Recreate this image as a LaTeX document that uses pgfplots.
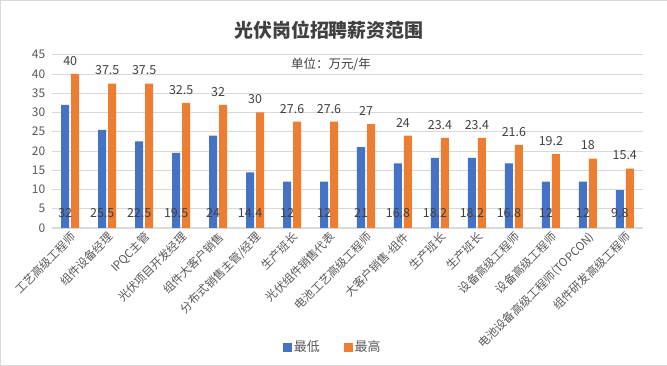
\documentclass[border=0pt]{standalone}
\usepackage{pgfplots}
\pgfplotsset{compat=1.18}
\usepackage{fontspec}
\setmainfont{Noto Sans CJK SC}
\definecolor{cblue}{HTML}{4472C4}
\definecolor{corange}{HTML}{ED7D31}
\definecolor{gridc}{HTML}{D9D9D9}
\definecolor{txt}{HTML}{595959}
\definecolor{lbl}{HTML}{404040}
\begin{document}
\begin{tikzpicture}[x=1bp,y=1bp]
\draw[gridc, fill=white] (0.5,0.5) rectangle (666.5,365.5);
\node[font=\bfseries\fontsize{19}{22}\selectfont, text=lbl] at (329,336) {光伏岗位招聘薪资范围};
\node[font=\fontsize{12.5}{14}\selectfont, text=lbl] at (331,301) {单位：万元/年};
\begin{axis}[
  at={(52bp,138bp)}, anchor=south west, scale only axis,
  width=591bp, height=173bp,
  xmin=-0.5, xmax=15.5, ymin=0, ymax=45,
  ytick={0,5,...,45},
  xtick={0,...,15},
  xticklabels={工艺高级工程师,组件设备经理,IPQC主管,光伏项目开发经理,组件大客户销售,分布式销售主管/经理,生产班长,光伏组件销售代表,电池工艺高级工程师,大客户销售-组件,生产班长,生产班长,设备高级工程师,设备高级工程师,电池设备高级工程师(TOPCON),组件研发高级工程师},
  axis lines*=left,
  y axis line style={draw=none},
  x axis line style={gridc, line width=0.8bp},
  major tick length=0pt,
  ymajorgrids, grid style={gridc, line width=0.6bp},
  xticklabel style={rotate=45, anchor=north east, font=\fontsize{11.5}{13}\selectfont, text=txt, inner sep=2bp},
  yticklabel style={font=\fontsize{12}{14}\selectfont, text=txt, xshift=-3bp},
  /pgf/number format/assume math mode=true,
  clip=false,
  legend style={at={(0.475,-0.688)}, anchor=center, draw=none, fill=none,
    legend columns=2, font=\fontsize{13}{15}\selectfont, text=txt,
    /tikz/every even column/.append style={column sep=22bp}},
]
\addplot[ybar, bar width=8bp, bar shift=-5bp, fill=cblue, draw=none,
  legend image code/.code={\fill[cblue] (0bp,-4.5bp) rectangle (9bp,4.5bp);}]
  coordinates {(0,32) (1,25.5) (2,22.5) (3,19.5) (4,24) (5,14.4) (6,12) (7,12) (8,21) (9,16.8) (10,18.2) (11,18.2) (12,16.8) (13,12) (14,12) (15,9.8)};
\addlegendentry{最低}
\addplot[ybar, bar width=8bp, bar shift=5bp, fill=corange, draw=none,
  legend image code/.code={\fill[corange] (0bp,-4.5bp) rectangle (9bp,4.5bp);},
  nodes near coords,
  nodes near coords style={font=\fontsize{12.5}{14}\selectfont, text=lbl, yshift=5bp, /pgf/number format/assume math mode=true}]
  coordinates {(0,40) (1,37.5) (2,37.5) (3,32.5) (4,32) (5,30) (6,27.6) (7,27.6) (8,27) (9,24) (10,23.4) (11,23.4) (12,21.6) (13,19.2) (14,18) (15,15.4)};
\addlegendentry{最高}
\addplot[draw=none, forget plot, nodes near coords, point meta=explicit symbolic,
  nodes near coords align={center},
  nodes near coords style={font=\fontsize{12.5}{14}\selectfont, text=lbl, xshift=-5bp}]
  coordinates {(0,3.9)[32] (1,3.9)[25.5] (2,3.9)[22.5] (3,3.9)[19.5] (4,3.9)[24] (5,3.9)[14.4] (6,3.9)[12] (7,3.9)[12] (8,3.9)[21] (9,3.9)[16.8] (10,3.9)[18.2] (11,3.9)[18.2] (12,3.9)[16.8] (13,3.9)[12] (14,3.9)[12] (15,3.9)[9.8]};
\end{axis}
\end{tikzpicture}
\end{document}
